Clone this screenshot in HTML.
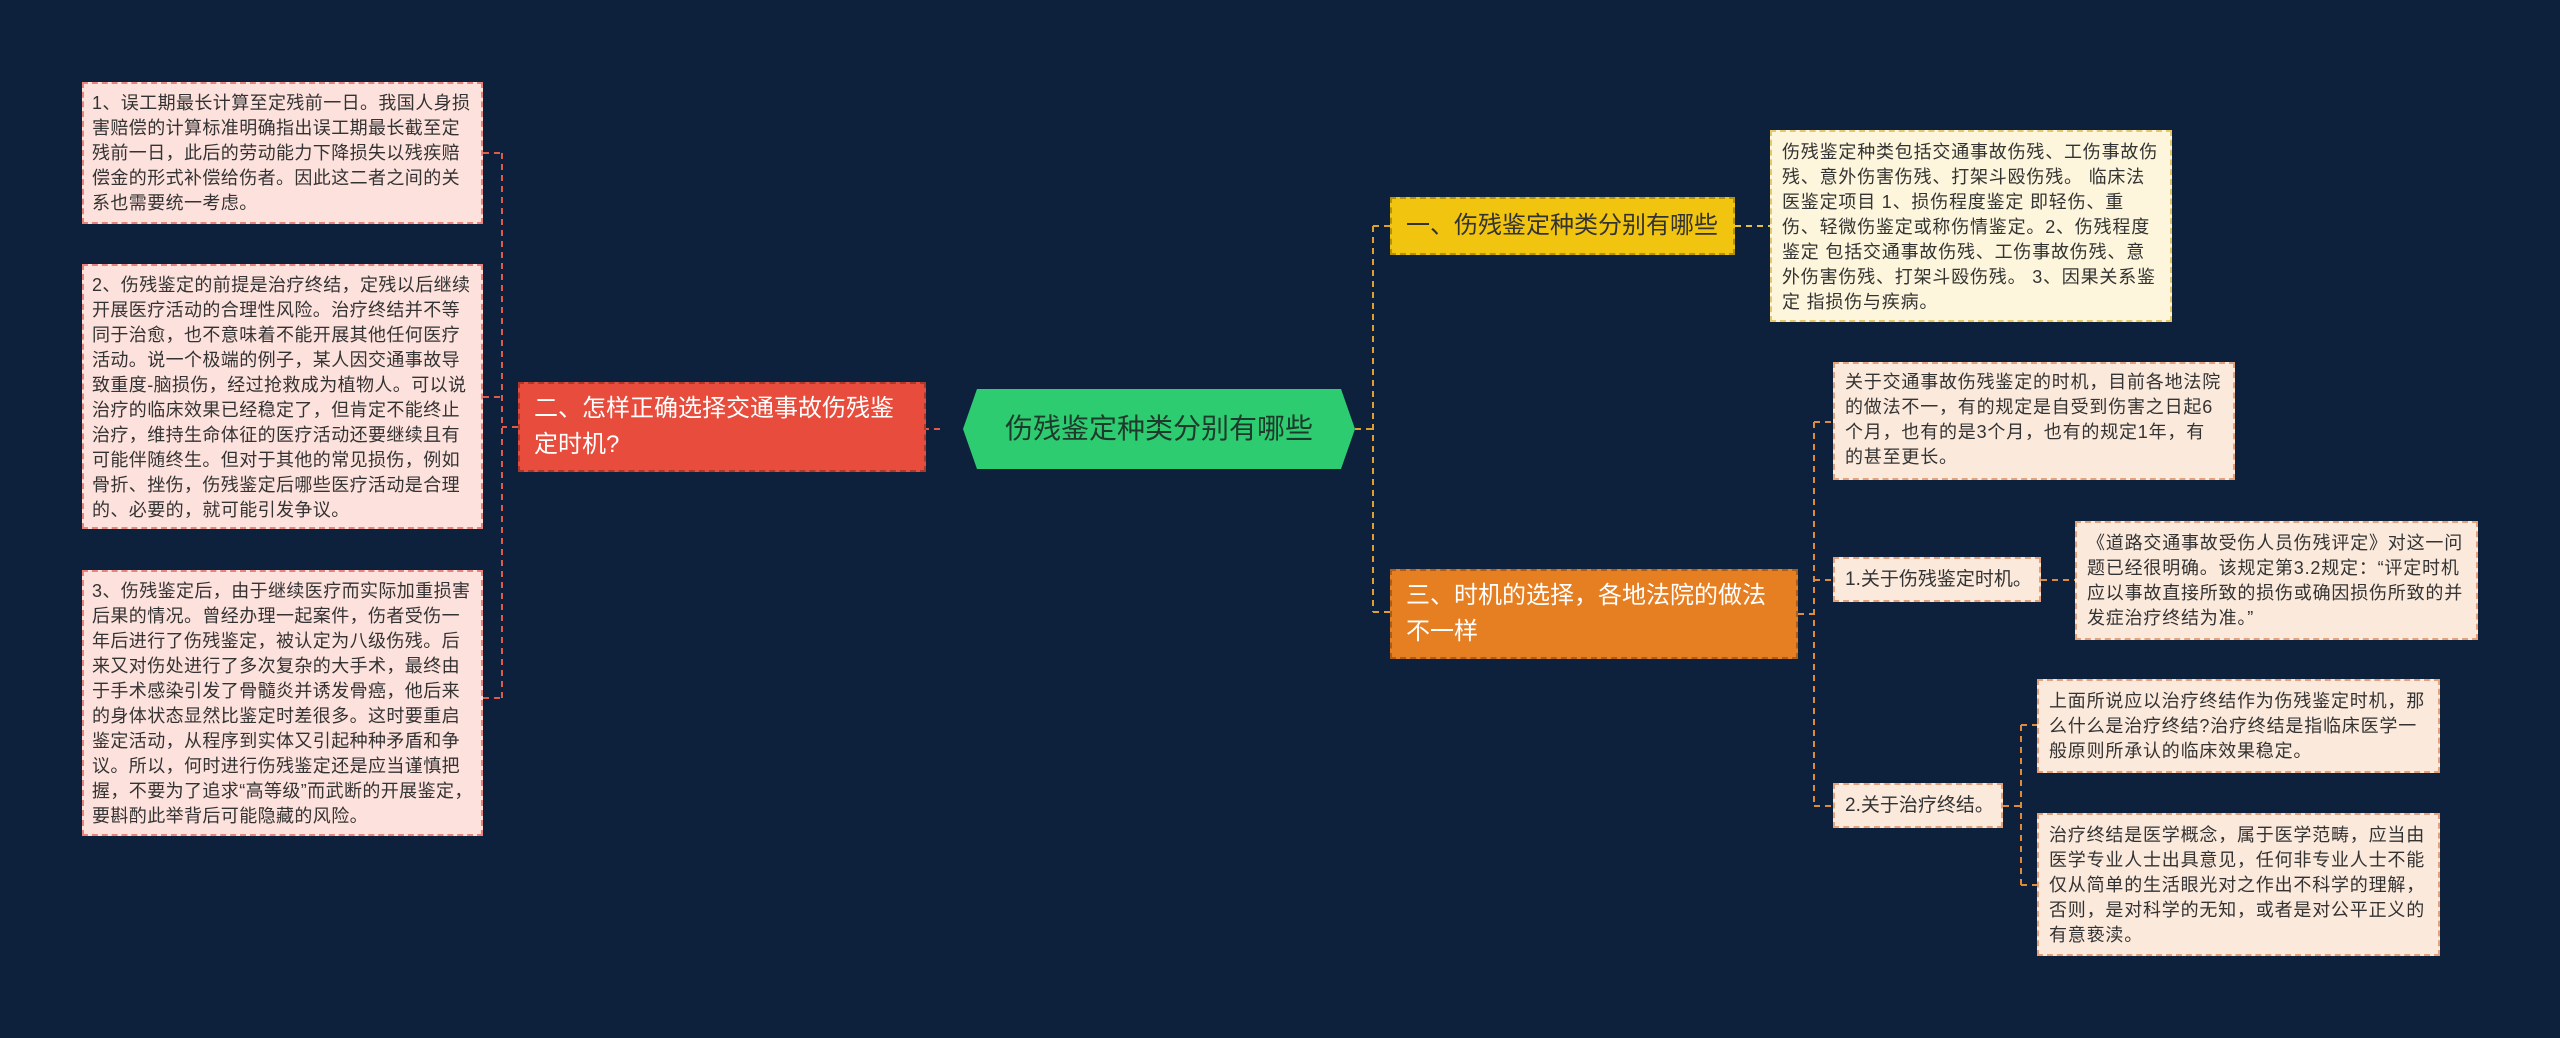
<!DOCTYPE html>
<html><head><meta charset="utf-8"><style>
body{margin:0;width:2560px;height:1038px;background:#0d213d;overflow:hidden;position:relative;font-family:"Liberation Sans","Noto Sans CJK SC",sans-serif}
.b{position:absolute;box-sizing:border-box;font-size:18px;line-height:25px;color:#333;padding:6px 10px;border:2px dashed;letter-spacing:0.8px}
.l{background:#fde1dc;border-color:#e8847a;padding:7px 8px;letter-spacing:0.4px}
.y{background:#fdf6dc;border-color:#e5c867}
.o{background:#fbe9dc;border-color:#e5a27a}
.s{white-space:nowrap;font-size:19px;display:flex;align-items:center;letter-spacing:0}
.n{position:absolute;box-sizing:border-box;font-size:24px;line-height:36px;color:#fff;padding:0 14px;display:flex;align-items:center;border:2px dashed rgba(0,0,0,.25)}
</style></head><body>
<svg width="2560" height="1038" style="position:absolute;left:0;top:0" fill="none" stroke-width="2" stroke-dasharray="6,5">
<g stroke="#e05a4a">
<path d="M940 429H926"/>
<path d="M518 427H502M502 153V698M483 153H502M483 397H502M483 698H502"/>
</g>
<g stroke="#e0a030">
<path d="M1355 429H1373M1373 226V612M1373 226H1390M1373 612H1390"/>
<path d="M1735 226H1770" stroke="#e5c140"/>
</g>
<g stroke="#e08a3a">
<path d="M1798 614H1814M1814 422V806M1814 422H1833M1814 580H1833M1814 806H1833"/>
<path d="M2041 580H2075"/>
<path d="M2003 806H2021M2021 725V885M2021 725H2037M2021 885H2037"/>
</g>
</svg>
<div class="n" style="left:963px;top:389px;width:392px;height:80px;background:#2ecc71;border:none;justify-content:center;font-size:28px;clip-path:polygon(0 50%,14px 0,378px 0,100% 50%,378px 100%,14px 100%);color:#1d3a2a">伤残鉴定种类分别有哪些</div>
<div class="n" style="left:518px;top:382px;width:408px;height:90px;background:#e74c3c">二、怎样正确选择交通事故伤残鉴定时机?</div>
<div class="n" style="left:1390px;top:197px;width:345px;height:58px;background:#f1c40f;color:#333">一、伤残鉴定种类分别有哪些</div>
<div class="n" style="left:1390px;top:569px;width:408px;height:90px;background:#e67e22">三、时机的选择，各地法院的做法不一样</div>

<div class="b l" style="left:82px;top:82px;width:401px;height:142px">1、误工期最长计算至定残前一日。我国人身损害赔偿的计算标准明确指出误工期最长截至定残前一日，此后的劳动能力下降损失以残疾赔偿金的形式补偿给伤者。因此这二者之间的关系也需要统一考虑。</div>
<div class="b l" style="left:82px;top:264px;width:401px;height:265px">2、伤残鉴定的前提是治疗终结，定残以后继续开展医疗活动的合理性风险。治疗终结并不等同于治愈，也不意味着不能开展其他任何医疗活动。说一个极端的例子，某人因交通事故导致重度-脑损伤，经过抢救成为植物人。可以说治疗的临床效果已经稳定了，但肯定不能终止治疗，维持生命体征的医疗活动还要继续且有可能伴随终生。但对于其他的常见损伤，例如骨折、挫伤，伤残鉴定后哪些医疗活动是合理的、必要的，就可能引发争议。</div>
<div class="b l" style="left:82px;top:570px;width:401px;height:266px">3、伤残鉴定后，由于继续医疗而实际加重损害后果的情况。曾经办理一起案件，伤者受伤一年后进行了伤残鉴定，被认定为八级伤残。后来又对伤处进行了多次复杂的大手术，最终由于手术感染引发了骨髓炎并诱发骨癌，他后来的身体状态显然比鉴定时差很多。这时要重启鉴定活动，从程序到实体又引起种种矛盾和争议。所以，何时进行伤残鉴定还是应当谨慎把握，不要为了追求“高等级”而武断的开展鉴定，要斟酌此举背后可能隐藏的风险。</div>

<div class="b y" style="left:1770px;top:130px;width:402px;height:192px;padding-top:8px">伤残鉴定种类包括交通事故伤残、工伤事故伤残、意外伤害伤残、打架斗殴伤残。 临床法医鉴定项目 1、损伤程度鉴定 即轻伤、重伤、轻微伤鉴定或称伤情鉴定。2、伤残程度鉴定 包括交通事故伤残、工伤事故伤残、意外伤害伤残、打架斗殴伤残。 3、因果关系鉴定 指损伤与疾病。</div>

<div class="b o" style="left:1833px;top:362px;width:402px;height:118px">关于交通事故伤残鉴定的时机，目前各地法院的做法不一，有的规定是自受到伤害之日起6个月，也有的是3个月，也有的规定1年，有的甚至更长。</div>
<div class="b o s" style="left:1833px;top:557px;width:208px;height:45px">1.关于伤残鉴定时机。</div>
<div class="b o" style="left:2075px;top:521px;width:403px;height:119px;padding-top:8px">《道路交通事故受伤人员伤残评定》对这一问题已经很明确。该规定第3.2规定：“评定时机应以事故直接所致的损伤或确因损伤所致的并发症治疗终结为准。”</div>
<div class="b o s" style="left:1833px;top:783px;width:170px;height:45px">2.关于治疗终结。</div>
<div class="b o" style="left:2037px;top:679px;width:403px;height:94px;padding-top:8px">上面所说应以治疗终结作为伤残鉴定时机，那么什么是治疗终结?治疗终结是指临床医学一般原则所承认的临床效果稳定。</div>
<div class="b o" style="left:2037px;top:813px;width:403px;height:143px;padding-top:8px">治疗终结是医学概念，属于医学范畴，应当由医学专业人士出具意见，任何非专业人士不能仅从简单的生活眼光对之作出不科学的理解，否则，是对科学的无知，或者是对公平正义的有意亵渎。</div>
</body></html>
